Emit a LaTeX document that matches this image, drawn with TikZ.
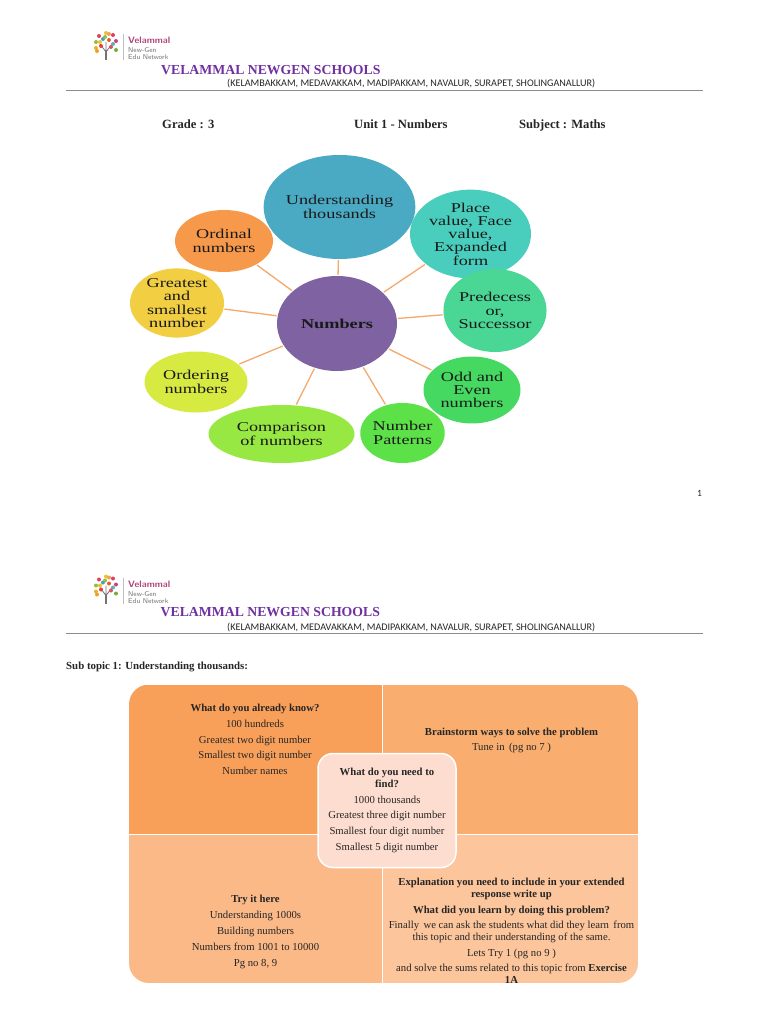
\documentclass[tikz,border=0pt]{standalone}
\usepackage{fontspec}
\setmainfont{Liberation Serif}
\newfontfamily\wideserif[FakeStretch=1.35]{Liberation Serif}
\newfontfamily\carl{Carlito}
\usetikzlibrary{shapes.geometric}
\definecolor{purp}{HTML}{7030A0}
\definecolor{lnk}{HTML}{F5A86B}
\definecolor{Qa}{HTML}{F8A05A}
\definecolor{Qb}{HTML}{F9AE70}
\definecolor{Qc}{HTML}{FBB988}
\definecolor{Qd}{HTML}{FCC59C}
\definecolor{Qe}{HTML}{FDDDD0}
\definecolor{Bn}{HTML}{7F62A1}
\definecolor{Ba}{HTML}{4AAAC4}
\definecolor{Bb}{HTML}{49CDBD}
\definecolor{Bc}{HTML}{4AD695}
\definecolor{Bd}{HTML}{46D961}
\definecolor{Be}{HTML}{5CE148}
\definecolor{Bf}{HTML}{98E843}
\definecolor{Bh}{HTML}{D7EA42}
\definecolor{Bi}{HTML}{F2CE43}
\definecolor{Bj}{HTML}{F7994B}
\definecolor{logor}{HTML}{B0457A}
\tikzset{
 bub/.style={ellipse,fill=#1,inner sep=0pt,align=center,text=black!90,font=\wideserif\fontsize{13.5}{13.3}\selectfont},
 lnkline/.style={draw=lnk,line width=1.3pt,shorten >=1pt,shorten <=1pt},
 title/.style={text=purp,font=\bfseries\fontsize{13.75}{16}\selectfont,inner sep=0pt,anchor=base west},
 sub/.style={font=\carl\fontsize{10.15}{11}\selectfont,text=black!85,inner sep=0pt,anchor=base west},
 head/.style={font=\bfseries\fontsize{12.6}{13}\selectfont,text=black!85,inner sep=0pt,anchor=base west},
 cell/.style={align=center,inner sep=0pt,text=black!85,font=\fontsize{10.7}{12}\selectfont},
 rulel/.style={draw=black!45,line width=1pt},
 pics/logo/.style={code={
   \draw[black!55,line width=1.8pt] (106,60) -- (106,50);
   \draw[black!55,line width=.8pt] (106,52) -- (100,44) (106,52) -- (112,44) (106,54) -- (106,42);
   \foreach \xa/\xb/\xc in {106/33/F0C030,99/36/E04060,113/35/E04060,96/42/90C040,103/39/40A0C0,109/40/E06030,116/41/D04080,96/48/F0B020,101/46/E04040,111/47/E05060,116/50/70B040,97/51/F0A020,105/37/90C040,109/34/F0A060,100/42/F0C030,113/44/60B0B0}
     {\definecolor{lc}{HTML}{\xc}\fill[lc] (\xa,\xb) circle (2);}
   \draw[black!25,line width=.6pt] (123,34) -- (123,60);
   \node[inner sep=0pt,anchor=base west,text=logor,font=\sffamily\bfseries\fontsize{9.3}{9}\selectfont] (v) at (128,44) {Velammal};
   \node[inner sep=0pt,anchor=base west,text=black!55,font=\sffamily\fontsize{7}{7}\selectfont] (g) at (128,53) {New-Gen};
   \node[inner sep=0pt,anchor=base west,text=black!55,font=\sffamily\fontsize{7}{7}\selectfont] (e) at (128,60) {Edu Network};
 }}
}
\begin{document}
\begin{tikzpicture}[x=1pt,y=-1pt]
\useasboundingbox (0,0) rectangle (768,1024);
\fill[white] (0,0) rectangle (768,1024);
% page 1 header
\pic (la) at (0,0) {logo};
\node[title] (t1) at (161,74.8) {VELAMMAL NEWGEN SCHOOLS};
\node[sub] (s1) at (227,87) {(KELAMBAKKAM, MEDAVAKKAM, MADIPAKKAM, NAVALUR, SURAPET, SHOLINGANALLUR)};
\draw[rulel] (66,90.5) -- (703,90.5);
\node[head] (g1) at (162,129) {Grade : 3};
\node[head] (g2) at (354,129) {Unit 1 - Numbers};
\node[head] (g3) at (519,129) {Subject : Maths};
\node[inner sep=0pt,font=\carl\fontsize{9.5}{11}\selectfont,text=black!85] (pn) at (699.5,493) {1};
% mind map
\node[bub=Bn,minimum width=120pt,minimum height=95pt,font=\wideserif\bfseries\fontsize{13.5}{14}\selectfont] (n) at (337,323.5) {Numbers};
\node[bub=Ba,minimum width=151pt,minimum height=104pt] (a) at (339.5,207) {Understanding\\thousands};
\node[bub=Bb,minimum width=121pt,minimum height=74pt] (b) at (470.5,234) {Place\\value, Face\\value,\\Expanded\\form};
\node[bub=Bc,minimum width=97pt,minimum height=83pt] (c) at (495,310.5) {Predecess\\or,\\Successor};
\node[bub=Bd,minimum width=97pt,minimum height=67pt] (d) at (472,390) {Odd and\\Even\\numbers};
\node[bub=Be,minimum width=83pt,minimum height=60pt] (e) at (402.5,433) {Number\\Patterns};
\node[bub=Bf,minimum width=146pt,minimum height=58pt] (f) at (281.5,434) {Comparison\\of numbers};
\node[bub=Bh,minimum width=103pt,minimum height=61pt] (h) at (196,382) {Ordering\\numbers};
\node[bub=Bi,minimum width=94pt,minimum height=67pt] (i) at (177,303) {Greatest\\and\\smallest\\number};
\node[bub=Bj,minimum width=98pt,minimum height=62pt] (j) at (224,241) {Ordinal\\numbers};
\foreach \p in {a,b,c,d,e,f,h,i,j}{\draw[lnkline] (\p) -- (n);}
% page 2 header
\pic (lb) at (0,543.5) {logo};
\node[title] (t2) at (160.5,616) {VELAMMAL NEWGEN SCHOOLS};
\node[sub] (s2) at (227,630) {(KELAMBAKKAM, MEDAVAKKAM, MADIPAKKAM, NAVALUR, SURAPET, SHOLINGANALLUR)};
\draw[rulel] (66,633.5) -- (703,633.5);
\node[head,font=\bfseries\fontsize{10.85}{12}\selectfont] (st) at (66,669.5) {Sub topic 1: Understanding thousands:};
% quadrants
\begin{scope}
\clip[rounded corners=20pt] (129,684.5) rectangle (638,983);
\fill[Qa] (129,684.5) rectangle (382.5,834.5);
\fill[Qb] (382.5,684.5) rectangle (638,834.5);
\fill[Qc] (129,834.5) rectangle (382.5,983);
\fill[Qd] (382.5,834.5) rectangle (638,983);
\draw[white,line width=1.6pt] (382.5,684.5) -- (382.5,983) (129,834.5) -- (638,834.5);
\end{scope}
\node[draw=white,line width=1.5pt,fill=Qe,rounded corners=15pt,minimum width=138pt,minimum height=114pt,inner sep=0pt] (m) at (387,810.5) {};
\node[cell,font=\fontsize{10.7}{15.8}\selectfont] (qa) at (255,739.5) {\textbf{What do you already know?}\\100 hundreds\\Greatest two digit number\\Smallest two digit number\\Number names};
\node[cell,font=\fontsize{10.7}{15.8}\selectfont] (qb) at (511.5,740.5) {\textbf{Brainstorm ways to solve the problem}\\Tune in\, (pg no 7 )};
\node[cell] (qm) at (m.center) {\textbf{What do you need to}\\\textbf{find?}\\[3.6pt]1000 thousands\\[3.8pt]Greatest three digit number\\[3.8pt]Smallest four digit number\\[3.8pt]Smallest 5 digit number};
\node[cell,font=\fontsize{10.7}{15.9}\selectfont] (qc) at (255.5,932) {\textbf{Try it here}\\Understanding 1000s\\Building numbers\\Numbers from 1001 to 10000\\Pg no 8, 9};
\node[cell] (qd) at (511.5,931) {\textbf{Explanation you need to include in your extended}\\\textbf{response write up}\\[3.4pt]\textbf{What did you learn by doing this problem?}\\[3.4pt]Finally\, we can ask the students what did they learn\, from\\this topic and their understanding of the same.\\[3.4pt]Lets Try 1 (pg no 9 )\\[3.6pt]and solve the sums related to this topic from \textbf{Exercise}\\\textbf{1A}};
\end{tikzpicture}
\end{document}
